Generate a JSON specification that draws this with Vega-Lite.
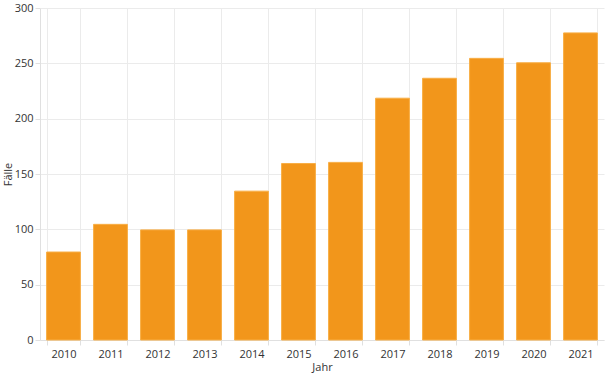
{
  "$schema": "https://vega.github.io/schema/vega-lite/v6.json",
  "width": 564,
  "height": 332,
  "autosize": {"type": "none"},
  "padding": {"left": 40, "top": 8, "right": 1, "bottom": 38},
  "background": "white",
  "config": {
    "font": "Open Sans",
    "view": {"stroke": null},
    "axis": {
      "labelFont": "Open Sans",
      "titleFont": "Open Sans",
      "labelFontSize": 11,
      "titleFontSize": 11,
      "titleFontWeight": "normal",
      "labelColor": "#333333",
      "titleColor": "#333333",
      "gridColor": "#ebebeb",
      "domainColor": "#e0e0e0",
      "tickColor": "#e0e0e0",
      "tickSize": 5
    }
  },
  "data": {
    "values": [
      {"Jahr": "2010", "Faelle": 79.5},
      {"Jahr": "2011", "Faelle": 104.5},
      {"Jahr": "2012", "Faelle": 99.5},
      {"Jahr": "2013", "Faelle": 99.5},
      {"Jahr": "2014", "Faelle": 134.5},
      {"Jahr": "2015", "Faelle": 159.5},
      {"Jahr": "2016", "Faelle": 160.5},
      {"Jahr": "2017", "Faelle": 218.5},
      {"Jahr": "2018", "Faelle": 236.5},
      {"Jahr": "2019", "Faelle": 254.5},
      {"Jahr": "2020", "Faelle": 250.5},
      {"Jahr": "2021", "Faelle": 277.5}
    ]
  },
  "mark": {"type": "bar", "color": "#F2961B", "stroke": "#F8AE45", "strokeWidth": 1},
  "encoding": {
    "x": {
      "field": "Jahr",
      "type": "ordinal",
      "title": "Jahr",
      "scale": {"paddingInner": 0.28, "paddingOuter": 0.14},
      "axis": {"labelAngle": 0, "grid": true, "tickBand": "extent", "labelPadding": 3, "titlePadding": 2, "domain": true}
    },
    "y": {
      "field": "Faelle",
      "type": "quantitative",
      "title": "Fälle",
      "scale": {"domain": [0, 300]},
      "axis": {"values": [0, 50, 100, 150, 200, 250, 300], "labelPadding": 2, "titlePadding": 1, "domain": true}
    }
  }
}
